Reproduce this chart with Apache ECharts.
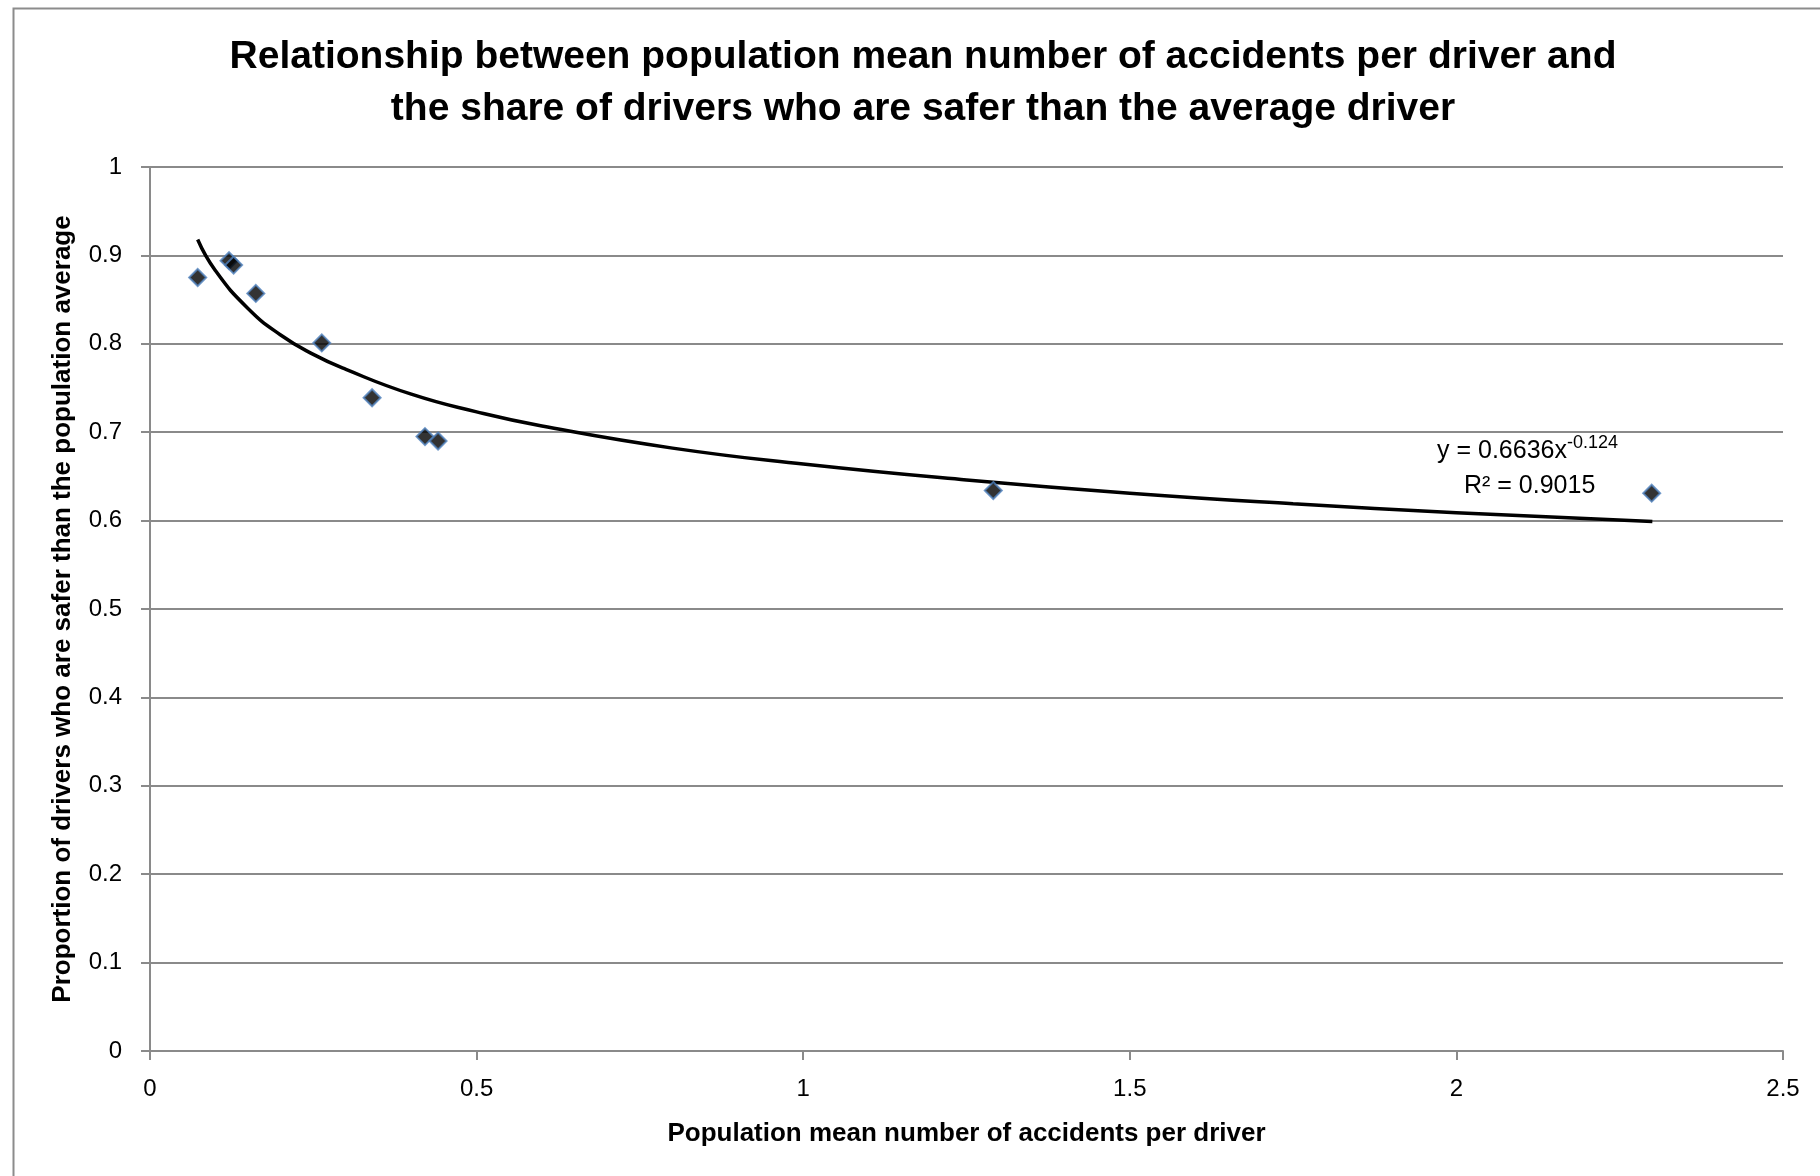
<!DOCTYPE html>
<html>
<head>
<meta charset="utf-8">
<script src="https://cdn.jsdelivr.net/npm/echarts@6/dist/echarts.min.js"></script>
<style>
html,body{margin:0;padding:0;background:#fff;}
#chart{width:1820px;height:1176px;}
</style>
</head>
<body>
<div id="chart"></div>
<script>
// Observed data points (x = population mean accidents per driver, y = share safer than average)
const pointsX = [0.073, 0.121, 0.128, 0.162, 0.263, 0.340, 0.421, 0.441, 1.291, 2.299];
const pointsY = [0.875, 0.894, 0.889, 0.857, 0.801, 0.739, 0.695, 0.690, 0.634, 0.631];
// Trend line
const trendX = [0.073, 0.1, 0.15, 0.2, 0.25, 0.3, 0.4, 0.5, 0.6, 0.8, 1.0, 1.25, 1.5, 1.75, 2.0, 2.3];
const trendY = [0.918, 0.883, 0.840, 0.810, 0.788, 0.771, 0.743, 0.723, 0.707, 0.682, 0.664, 0.646, 0.631, 0.619, 0.609, 0.599];
const xTicks = [0, 0.5, 1, 1.5, 2, 2.5];
const yTicks = [0, 0.1, 0.2, 0.3, 0.4, 0.5, 0.6, 0.7, 0.8, 0.9, 1];

const titleLines = ['Relationship between population mean number of accidents per driver and', 'the share of drivers who are safer than the average driver'];
const xName = 'Population mean number of accidents per driver';
const yName = 'Proportion of drivers who are safer than the population average';
const eqText = 'y = 0.6636x';
const eqExp = '-0.124';
const r2Text = 'R² = 0.9015';

const FONT = 'Liberation Sans, Arial, sans-serif';
const GRID = '#8a8a8a';

const chart = echarts.init(document.getElementById('chart'), null, {renderer: 'canvas'});
chart.setOption({
  backgroundColor: '#fff',
  animation: false,
  textStyle: {fontFamily: FONT},
  title: {
    text: titleLines.join('\n'),
    left: 918,
    textAlign: 'center',
    top: 26,
    textStyle: {fontFamily: FONT, fontWeight: 'bold', fontSize: 39, lineHeight: 52, color: '#000'}
  },
  grid: {left: 150, top: 167, right: 37, bottom: 125},
  xAxis: {
    type: 'value', min: xTicks[0], max: xTicks[xTicks.length - 1], interval: 0.5,
    name: xName, nameLocation: 'middle', nameGap: 70,
    nameTextStyle: {fontFamily: FONT, fontWeight: 'bold', fontSize: 26, color: '#000'},
    axisLine: {show: true, lineStyle: {color: GRID, width: 2}},
    axisTick: {show: true, length: 9, lineStyle: {color: GRID, width: 2}},
    axisLabel: {fontSize: 24, color: '#000', margin: 26, formatter: v => String(v)},
    splitLine: {show: false}
  },
  yAxis: {
    type: 'value', min: yTicks[0], max: yTicks[yTicks.length - 1], interval: 0.1,
    name: yName, nameLocation: 'middle', nameGap: 74, nameRotate: 90,
    nameTextStyle: {fontFamily: FONT, fontWeight: 'bold', fontSize: 26, color: '#000'},
    axisLine: {show: true, lineStyle: {color: GRID, width: 2}},
    axisTick: {show: true, length: 9, lineStyle: {color: GRID, width: 2}},
    axisLabel: {fontSize: 24, color: '#000', margin: 28, formatter: v => String(Math.round(v * 10) / 10)},
    splitLine: {show: true, lineStyle: {color: GRID, width: 2}}
  },
  graphic: [
    {type: 'rect', left: 11, top: 6, shape: {width: 1830, height: 1200}, style: {fill: 'none', stroke: '#8c8c8c', lineWidth: 2}, z: -1},
    {type: 'text', left: 1437, top: 434, style: {
      text: '{a|' + eqText + '}{s|' + eqExp + '}',
      rich: {a: {fontFamily: FONT, fontSize: 25, color: '#000', lineHeight: 30, verticalAlign: 'bottom'},
             s: {fontFamily: FONT, fontSize: 18, color: '#000', lineHeight: 30, verticalAlign: 'top', padding: [0,0,10,0]}}
    }},
    {type: 'text', left: 1464, top: 474, style: {text: r2Text, fontFamily: FONT, fontSize: 25, fill: '#000'}}
  ],
  series: [
    {
      type: 'line', data: trendX.map((x, i) => [x, trendY[i]]), smooth: true, symbol: 'none',
      lineStyle: {color: '#000', width: 3.5}, z: 2
    },
    {
      type: 'scatter', data: pointsX.map((x, i) => [x, pointsY[i]]), symbol: 'diamond', symbolSize: 17,
      itemStyle: {color: '#000', borderColor: '#4f81bd', borderWidth: 2}, z: 3
    }
  ]
});
</script>
</body>
</html>
